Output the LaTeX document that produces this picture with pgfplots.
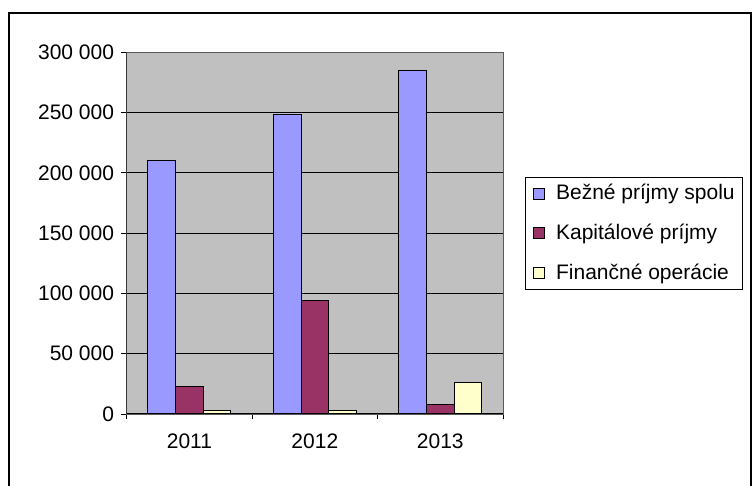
\documentclass[border=0pt]{standalone}
\usepackage{pgfplots}
\pgfplotsset{compat=1.18}
\usepackage{fontspec}
\setmainfont{Liberation Sans}
\definecolor{cblue}{HTML}{9999FF}
\definecolor{cmaroon}{HTML}{993366}
\definecolor{cyellow}{HTML}{FFFFCC}
\definecolor{plotgray}{HTML}{C0C0C0}
\begin{document}
\fontsize{21bp}{25bp}\selectfont
\begin{tikzpicture}[x=1bp,y=1bp]
\useasboundingbox (0,0) rectangle (752,486);
\draw[line width=1.3bp] (9,-5) -- (9,473) -- (751,473) -- (751,-5);
\begin{axis}[
  at={(126.7bp,72bp)}, anchor=south west,
  scale only axis, width=376.3bp, height=361.7bp,
  xmin=-0.5, xmax=2.5, ymin=0, ymax=300000,
  ybar=0pt, bar width=27.7bp,
  axis background/.style={fill=plotgray},
  axis line style={draw=gray!70!black, line width=0.8bp},
  ytick={0,50000,100000,150000,200000,250000,300000},
  ymajorgrids, grid style={black, line width=0.8bp},
  scaled y ticks=false,
  yticklabel style={/pgf/number format/.cd, fixed, precision=0, 1000 sep={\ }, assume math mode=true},
  tick align=outside, major tick length=5.5bp,
  tick style={black, line width=0.8bp},
  xtick pos=bottom, ytick pos=left,
  xtick={-0.5,0.5,1.5,2.5}, xticklabels={},
  extra x ticks={0,1,2}, extra x tick labels={2011,2012,2013},
  extra x tick style={major tick length=0pt, grid=none, tick style={draw=none}},
  xticklabel style={yshift=-13bp},
  legend style={at={(1.0585,0.656)}, anchor=north west, draw=black, line width=0.8bp,
    fill=white, inner xsep=7.7bp, inner ysep=0bp, row sep=6.5bp, column sep=0pt,
    nodes={inner sep=0pt, minimum height=33.2bp, anchor=west}},
  legend cell align=left,
  legend image code/.code={\draw[#1, line width=1bp] (0bp,-5.5bp) rectangle (11bp,5.5bp); \path (22bp,0bp);},
]
\addplot[draw=black, line width=1bp, fill=cblue] coordinates {(0,210000) (1,248300) (2,285100)};
\addplot[draw=black, line width=1bp, fill=cmaroon] coordinates {(0,22700) (1,94300) (2,8000)};
\addplot[draw=black, line width=1bp, fill=cyellow] coordinates {(0,3300) (1,3300) (2,26300)};
\legend{Bežné príjmy spolu, Kapitálové príjmy, Finančné operácie}
\draw[black, line width=1bp] (rel axis cs:0,0) -- (rel axis cs:0,1);
\draw[black, line width=1bp] (rel axis cs:0,0) -- (rel axis cs:1,0);
\end{axis}
\end{tikzpicture}
\end{document}
